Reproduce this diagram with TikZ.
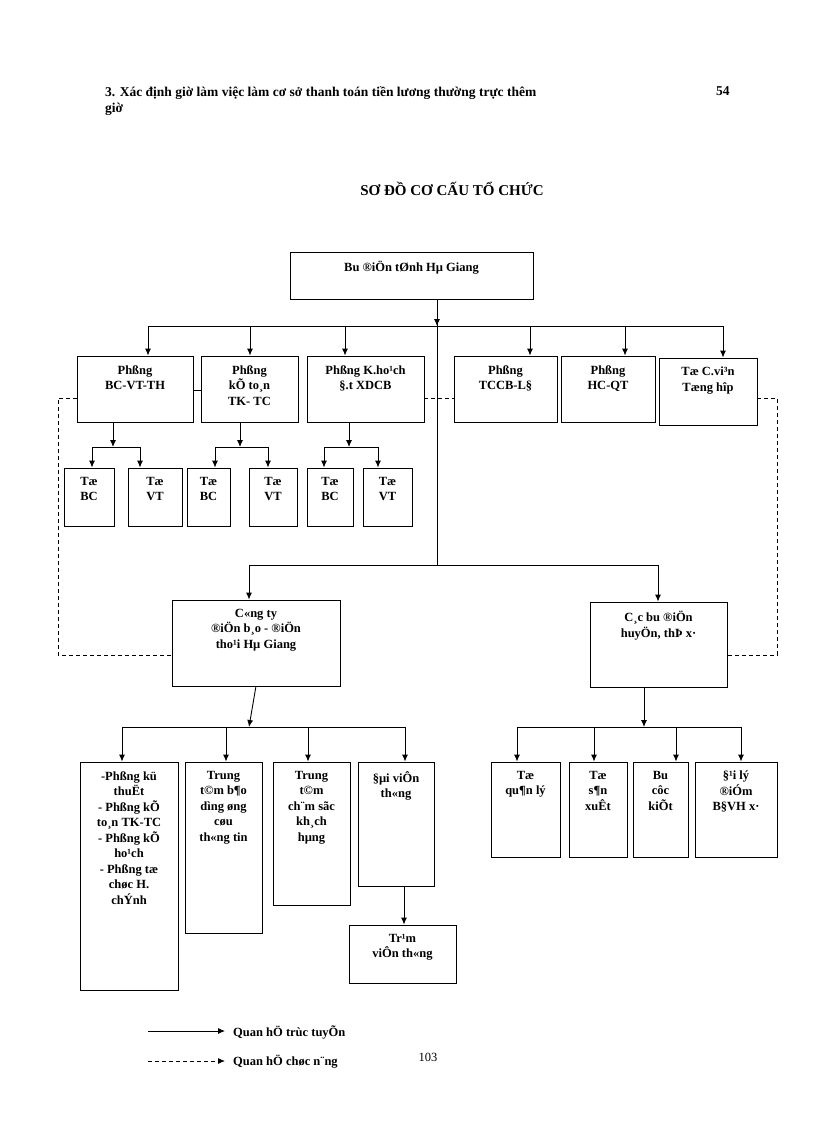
\documentclass[tikz,border=0pt]{standalone}
\usepackage{fontspec}
\setmainfont{Liberation Serif}
\usetikzlibrary{arrows.meta,calc}
\begin{document}
\begin{tikzpicture}[x=1pt,y=-1pt,
  ln/.style={line width=0.9pt},
  ar/.style={ln,-{Latex[length=7pt,width=6pt]}},
  da/.style={ln,dash pattern=on 4pt off 3pt},
  tx/.style={font=\fontsize{12.5}{15.5}\selectfont\bfseries,align=center,inner sep=0pt,anchor=north}]
\useasboundingbox (0,0) rectangle (816,1123);
\newcommand\bx[6]{%
  \node[draw,ln,inner sep=0pt,minimum width={#4-#2},minimum height={#5-#3}] (#1) at ({(#2+#4)/2},{(#3+#5)/2}) {};
  \node[tx] (#1t) at ({(#2+#4)/2},{#3+9}) {#6};}
% header
\node[anchor=north west,inner sep=0pt,font=\fontsize{13.5}{16}\selectfont\bfseries,align=left] (hd) at (105,86) {3. Xác định giờ làm việc làm cơ sở thanh toán tiền lương thường trực thêm\\giờ};
\node[anchor=north west,inner sep=0pt,font=\fontsize{13.5}{16}\selectfont\bfseries] (pg) at (716,86) {54};
\node[inner sep=0pt,font=\fontsize{15}{18}\selectfont\bfseries] (title) at (452,189) {SƠ ĐỒ CƠ CẤU TỔ CHỨC};
% boxes
\bx{top}{290}{252}{533}{299}{Bu  ®iÖn tØnh Hµ Giang}
\bx{A}{77}{356}{193}{422}{Phßng\\BC-VT-TH}
\bx{B}{201}{356}{298}{422}{Phßng\\kÕ to¸n\\TK- TC}
\bx{C}{307}{356}{424}{422}{Phßng K.ho¹ch\\§.t  XDCB}
\bx{D}{454}{356}{557}{422}{Phßng\\TCCB-L§}
\bx{E}{561}{356}{655}{422}{Phßng\\HC-QT}
\bx{F}{659}{358}{757}{425}{Tæ C.vi³n\\Tæng hîp}
\bx{A1}{64}{468}{114}{526}{Tæ\\BC}
\bx{A2}{128}{468}{182}{526}{Tæ\\VT}
\bx{B1}{187}{468}{230}{526}{Tæ\\BC}
\bx{B2}{249}{468}{297}{526}{Tæ\\VT}
\bx{C1}{307}{468}{353}{526}{Tæ\\BC}
\bx{C2}{363}{468}{412}{526}{Tæ\\VT}
\bx{G}{172}{600}{340}{686}{C«ng ty\\®iÖn b¸o - ®iÖn\\tho¹i Hµ Giang}
\bx{H}{590}{602}{727}{687}{C¸c bu  ®iÖn\\huyÖn,  thÞ x·}
\bx{G1}{80}{762}{178}{990}{-Phßng kü\\thuËt\\- Phßng kÕ\\to¸n TK-TC\\- Phßng kÕ\\ho¹ch\\- Phßng tæ\\chøc H.\\chÝnh}
\bx{G2}{185}{762}{262}{933}{Trung\\t©m b¶o\\dìng øng\\cøu\\th«ng tin}
\bx{G3}{273}{762}{350}{905}{Trung\\t©m\\ch¨m sãc\\kh¸ch\\hµng}
\bx{G4}{358}{762}{434}{886}{§µi viÔn\\th«ng}
\bx{G5}{349}{925}{456}{983}{Tr¹m\\viÔn th«ng}
\bx{H1}{491}{762}{560}{857}{Tæ\\qu¶n lý}
\bx{H2}{569}{762}{627}{857}{Tæ\\s¶n\\xuÊt}
\bx{H3}{633}{762}{688}{857}{Bu\\côc\\kiÕt}
\bx{H4}{695}{762}{777}{857}{§¹i lý\\®iÓm\\B§VH x·}
% main bus
\coordinate (j1) at (437,326);
\coordinate (j2) at (437,565);
\draw[ln] (top.south -| j1) -- (j2);
\draw[ar] (top.south -| j1) -- (j1);
\draw[ln] (148,326) -- (723,326);
\foreach \n/\x in {A/148,B/250,C/345,D/530,E/625,F/723}{\draw[ar] (\x,326) -- (\x,0 |- \n.north);}
% sub groups
\foreach \n/\c/\l/\r in {A/113/92/140,B/240/215/268,C/349/324/378}{
  \draw[ar] (\c,0 |- \n.south) -- (\c,447);
  \draw[ln] (\l,447) -- (\r,447);
  \draw[ar] (\l,447) -- (\l,0 |- \n1.north);
  \draw[ar] (\r,447) -- (\r,0 |- \n2.north);}
\draw[ln] (A.east |- 0,390) -- (B.west |- 0,390);
% lower bus
\draw[ln] (249,565) -- (658,565);
\draw[ar] (249,565) -- (249,0 |- G.north);
\draw[ar] (658,565) -- (658,0 |- H.north);
% functional dashed
\draw[da] (A.west |- 0,398) -- (58,398) -- (58,655) -- (G.west |- 0,655);
\draw[da] (F.east |- 0,398) -- (777,398) -- (777,655) -- (H.east |- 0,655);
\draw[da] (C.east |- 0,398) -- (D.west |- 0,398);
% Cong ty children
\draw[ar] (G.south |- 0,686) -- (249,727);
\draw[ln] (122,727) -- (405,727);
\foreach \n/\x in {G1/122,G2/226,G3/308,G4/405}{\draw[ar] (\x,727) -- (\x,0 |- \n.north);}
\draw[ar] (404,0 |- G4.south) -- (404,0 |- G5.north);
% Cac children
\draw[ar] (644,0 |- H.south) -- (644,727);
\draw[ln] (517,727) -- (741,727);
\foreach \n/\x in {H1/517,H2/594,H3/676,H4/741}{\draw[ar] (\x,727) -- (\x,0 |- \n.north);}
% legend
\coordinate (l1a) at (148,1031); \coordinate (l1b) at (225,1031);
\coordinate (l2a) at (148,1061); \coordinate (l2b) at (225,1061);
\draw[ar] (l1a) -- (l1b);
\draw[da,-{Latex[length=7pt,width=6pt]}] (l2a) -- (l2b);
\node[tx,anchor=west] (lt1) at (233,1032) {Quan hÖ trùc tuyÕn};
\node[tx,anchor=west] (lt2) at (233,1062) {Quan hÖ chøc n¨ng};
\node[inner sep=0pt,font=\fontsize{12.5}{15}\selectfont] (num) at (428,1057) {103};
\end{tikzpicture}
\end{document}
